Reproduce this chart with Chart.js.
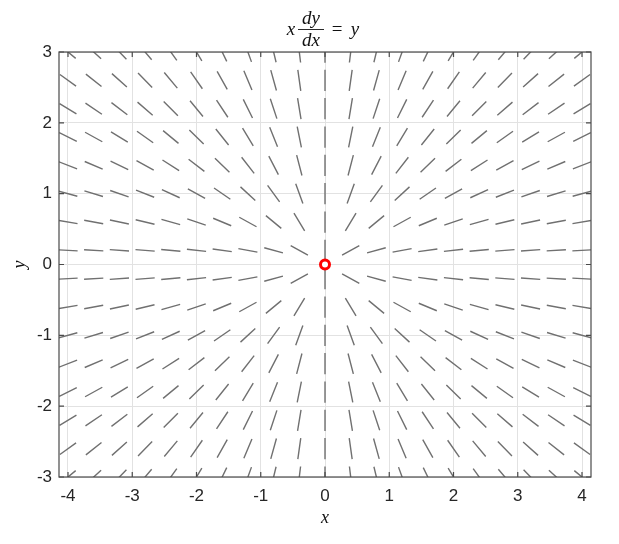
<!DOCTYPE html>
<html>
<head>
<meta charset="utf-8">
<script src="https://cdn.jsdelivr.net/npm/chart.js@4/dist/chart.umd.min.js"></script>
<style>
  html, body { margin: 0; padding: 0; background: #fff; }
  canvas { display: block; }
</style>
</head>
<body>
<canvas id="slopeChart" width="619" height="544"></canvas>
<script>
// Direction field for x dy/dx = y

const xGrid = [-4, -3.6, -3.2, -2.8, -2.4, -2, -1.6, -1.2, -0.8, -0.4, 0, 0.4, 0.8, 1.2, 1.6, 2, 2.4, 2.8, 3.2, 3.6, 4];
const yGrid = [3, 2.6, 2.2, 1.8, 1.4, 1, 0.6, 0.2, -0.2, -0.6, -1, -1.4, -1.8, -2.2, -2.6, -3];
const xTicks = [-4, -3, -2, -1, 0, 1, 2, 3, 4];
const yTicks = [-3, -2, -1, 0, 1, 2, 3];
const equilibrium = [{ x: 0, y: 0 }];
const segLength = 0.3;

// slope y/x at each grid point, segment centred on the point
function buildSegments() {
  const pts = [];
  xGrid.forEach((x) => {
    yGrid.forEach((y) => {
      let dx = 0, dy = 1;
      if (x !== 0) {
        const s = y / x;
        const n = Math.sqrt(1 + s * s);
        dx = 1 / n;
        dy = s / n;
      }
      const h = segLength / 2;
      pts.push({ x: x - dx * h, y: y - dy * h });
      pts.push({ x: x + dx * h, y: y + dy * h });
      pts.push({ x: x, y: null });
    });
  });
  return pts;
}

const serif = "'Liberation Serif', 'DejaVu Serif', serif";

// title, axis labels, frame and inward ticks
const decorations = {
  id: "decorations",
  afterDraw(chart) {
    const ctx = chart.ctx;
    const a = chart.chartArea;
    const xs = chart.scales.x;
    const ys = chart.scales.y;

    ctx.save();
    ctx.strokeStyle = "#4a4a4a";
    ctx.lineWidth = 1.2;
    ctx.strokeRect(a.left, a.top, a.right - a.left, a.bottom - a.top);

    ctx.beginPath();
    xTicks.forEach((t) => {
      const px = xs.getPixelForValue(t);
      ctx.moveTo(px, a.bottom);
      ctx.lineTo(px, a.bottom - 5);
      ctx.moveTo(px, a.top);
      ctx.lineTo(px, a.top + 5);
    });
    yTicks.forEach((t) => {
      const py = ys.getPixelForValue(t);
      ctx.moveTo(a.left, py);
      ctx.lineTo(a.left + 5, py);
      ctx.moveTo(a.right, py);
      ctx.lineTo(a.right - 5, py);
    });
    ctx.stroke();

    // title: x dy/dx = y
    ctx.fillStyle = "#111";
    ctx.font = "italic 19px " + serif;
    ctx.textBaseline = "alphabetic";
    ctx.textAlign = "center";
    const cx = 311;
    ctx.fillText("x", 291, 35);
    ctx.fillText("dy", cx, 24);
    ctx.fillText("dx", cx, 46);
    ctx.strokeStyle = "#111";
    ctx.lineWidth = 0.9;
    ctx.beginPath();
    ctx.moveTo(cx - 13, 29.5);
    ctx.lineTo(cx + 13, 29.5);
    ctx.stroke();
    ctx.font = "19px " + serif;
    ctx.fillText("=", 337, 35);
    ctx.font = "italic 19px " + serif;
    ctx.fillText("y", 355, 35);

    // axis titles
    ctx.font = "italic 18px " + serif;
    ctx.textBaseline = "middle";
    ctx.fillText("x", xs.getPixelForValue(0), 518);
    ctx.translate(20, ys.getPixelForValue(0));
    ctx.rotate(-Math.PI / 2);
    ctx.fillText("y", 0, 0);
    ctx.restore();
  },
};

const ctx = document.getElementById("slopeChart").getContext("2d");

new Chart(ctx, {
  type: "line",
  data: {
    datasets: [
      {
        label: "equilibrium",
        data: equilibrium,
        showLine: false,
        pointRadius: 4.5,
        pointBorderWidth: 3,
        pointBorderColor: "#ff0000",
        pointBackgroundColor: "#ffffff",
        order: 0,
      },
      {
        label: "slope field",
        data: buildSegments(),
        borderColor: "#707070",
        borderWidth: 1.4,
        pointRadius: 0,
        spanGaps: false,
        tension: 0,
        order: 1,
      },
    ],
  },
  options: {
    responsive: false,
    animation: false,
    layout: { padding: { top: 52, right: 28, left: 0, bottom: 0 } },
    plugins: {
      legend: { display: false },
      tooltip: { enabled: false },
    },
    scales: {
      x: {
        type: "linear",
        min: -4.14,
        max: 4.14,
        afterBuildTicks: (scale) => {
          scale.ticks = xTicks.map((v) => ({ value: v }));
        },
        afterFit: (scale) => {
          scale.height = 67;
        },
        grid: { color: "#e2e2e2", lineWidth: 1, drawTicks: false },
        border: { display: false },
        ticks: {
          padding: 9,
          color: "#262626",
          font: { family: "'Liberation Sans', Arial, sans-serif", size: 17 },
        },
      },
      y: {
        type: "linear",
        min: -3,
        max: 3,
        afterBuildTicks: (scale) => {
          scale.ticks = yTicks.map((v) => ({ value: v }));
        },
        afterFit: (scale) => {
          scale.width = 59;
        },
        grid: { color: "#e2e2e2", lineWidth: 1, drawTicks: false },
        border: { display: false },
        ticks: {
          padding: 7,
          color: "#262626",
          font: { family: "'Liberation Sans', Arial, sans-serif", size: 17 },
        },
      },
    },
  },
  plugins: [decorations],
});
</script>
</body>
</html>
